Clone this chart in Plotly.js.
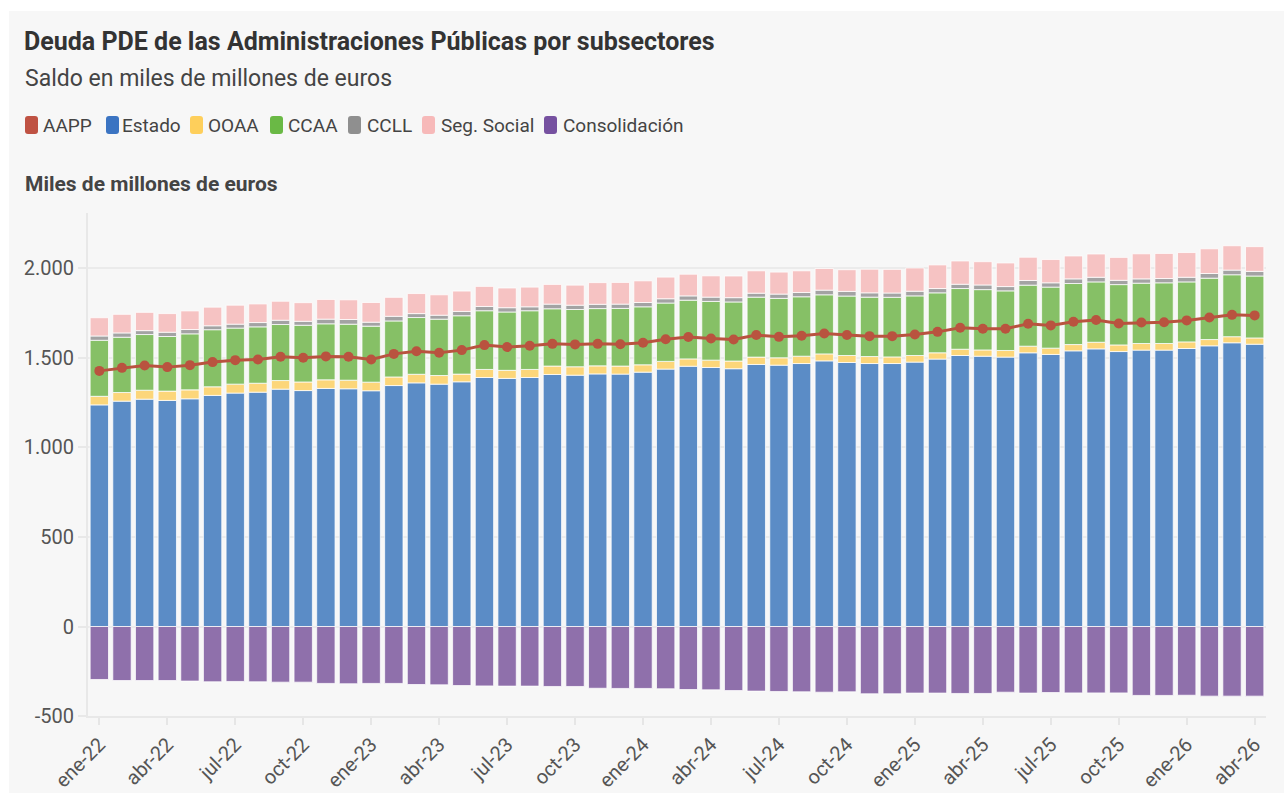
<!DOCTYPE html>
<html>
<head>
<meta charset="utf-8">
<script src="https://cdn.plot.ly/plotly-3.0.1.min.js"></script>
<style>
  html, body { margin: 0; padding: 0; background: #ffffff; }
  #chart { position: absolute; left: 9px; top: 11px; width: 1275px; height: 782px; }
</style>
</head>
<body>
<div id="chart"></div>
<script>
// ---------- DATA (miles de millones de euros) ----------
const categories = [
  "ene-22","feb-22","mar-22","abr-22","may-22","jun-22","jul-22","ago-22","sep-22","oct-22","nov-22","dic-22",
  "ene-23","feb-23","mar-23","abr-23","may-23","jun-23","jul-23","ago-23","sep-23","oct-23","nov-23","dic-23",
  "ene-24","feb-24","mar-24","abr-24","may-24","jun-24","jul-24","ago-24","sep-24","oct-24","nov-24","dic-24",
  "ene-25","feb-25","mar-25","abr-25","may-25","jun-25","jul-25","ago-25","sep-25","oct-25","nov-25","dic-25",
  "ene-26","feb-26","mar-26","abr-26"
];

const estado = [1238,1259,1270,1263,1272,1291,1304,1309,1326,1318,1330,1328,1317,1346,1361,1354,
  1367,1391,1386,1391,1408,1404,1411,1410,1421,1438,1454,1447,1440,1464,1460,1469,1484,1475,
  1469,1469,1477,1494,1514,1510,1505,1529,1520,1540,1551,1536,1544,1544,1553,1568,1585,1577];

const ooaa = [48,48,50,52,50,48,50,50,48,48,48,48,48,48,48,48,
  43,45,45,45,47,47,45,45,41,43,41,41,43,41,41,41,39,39,
  39,37,37,35,35,35,37,37,35,35,37,37,37,37,37,35,34,35];

const ccaa = [313,309,311,305,313,319,313,315,313,317,313,313,313,313,317,315,
  326,328,326,328,320,320,320,322,324,326,328,328,330,335,332,332,330,332,
  332,333,333,335,339,337,333,341,341,341,337,337,337,339,335,343,346,346];

const ccll = [24,24,22,24,24,22,22,24,24,22,26,26,22,26,22,22,
  24,24,24,22,26,24,24,24,24,24,24,24,24,22,24,24,26,26,
  24,24,26,24,24,26,24,26,24,26,26,24,24,24,26,26,26,26];

const segSocial = [102,104,102,104,104,104,106,104,106,104,110,110,110,106,112,114,
  114,112,110,110,110,112,121,121,121,121,121,119,121,125,123,121,121,121,
  132,132,130,132,130,130,132,130,130,128,130,128,140,140,138,138,136,138];

const consolidacion = [-296,-302,-302,-302,-305,-309,-307,-309,-311,-311,-318,-320,-318,-318,-324,-326,
  -330,-332,-333,-333,-335,-335,-345,-346,-346,-348,-352,-354,-358,-361,-363,-365,-367,-365,
  -376,-376,-372,-372,-374,-374,-367,-372,-369,-371,-371,-371,-385,-385,-384,-389,-389,-389];

const aapp = [1428,1445,1458,1449,1460,1477,1488,1492,1507,1501,1509,1507,1492,1523,1538,1529,
  1544,1572,1561,1568,1579,1576,1579,1577,1585,1605,1617,1609,1603,1628,1618,1624,1637,1628,
  1622,1622,1631,1646,1669,1663,1663,1691,1682,1702,1712,1693,1698,1700,1710,1726,1741,1738];

const yTickVals = [-500, 0, 500, 1000, 1500, 2000];
const yTickText = ["-500", "0", "500", "1.000", "1.500", "2.000"];

const legendNames = ["AAPP", "Estado", "OOAA", "CCAA", "CCLL", "Seg. Social", "Consolidación"];

// ---------- STYLE ----------
const FONT = "Roboto, 'Open Sans', Arial, sans-serif";
const legendColors = ["#bf5243", "#3b74c2", "#fecf5b", "#6ab945", "#8f8f8f", "#f7b9b9", "#7651a0"];
const barColors = {
  estado: "#5b8cc6", ooaa: "#fcd67a", ccaa: "#86c066", ccll: "#a3a3a3",
  ss: "#f6c3c3", cons: "#8f70ab"
};
const lineColor = "#b9533f";

// figure geometry (page pixels -> paper coords)
const OFF_X = 9, OFF_Y = 11, ML = 79, MT = 202, PW = 1178, PH = 503;
const FIG_W = 1275, FIG_H = 782;
const px = x => (x - OFF_X - ML) / PW;
const py = y => (OFF_Y + MT + PH - y) / PH;

const barLine = { color: "rgba(255,255,255,0.75)", width: 1 };
function barTrace(name, y, color) {
  return {
    type: "bar", name: name, x: categories, y: y,
    marker: { color: color, line: barLine },
    showlegend: false,
    hovertemplate: "%{x}<br>" + name + ": %{y:,.0f}<extra></extra>"
  };
}

const traces = [
  barTrace("Estado", estado, barColors.estado),
  barTrace("OOAA", ooaa, barColors.ooaa),
  barTrace("CCAA", ccaa, barColors.ccaa),
  barTrace("CCLL", ccll, barColors.ccll),
  barTrace("Seg. Social", segSocial, barColors.ss),
  barTrace("Consolidación", consolidacion, barColors.cons),
  {
    type: "scatter", mode: "lines+markers", name: "AAPP",
    x: categories, y: aapp,
    line: { color: lineColor, width: 3 },
    marker: { color: lineColor, size: 10 },
    showlegend: false,
    hovertemplate: "%{x}<br>AAPP: %{y:,.0f}<extra></extra>"
  }
];

// ---------- custom legend (rounded squares + text) ----------
const legendSquareX = [25, 106, 190, 270, 348, 422, 544];
const legendTextX = [41, 120, 206, 286, 365, 439, 561];
const legTop = 116, legBot = 134, legW = 13, rad = 3;
const shapes = [];
const annotations = [];
legendNames.forEach((n, i) => {
  const x0 = legendSquareX[i], x1 = x0 + legW;
  const X0 = px(x0), X1 = px(x1), Y0 = py(legBot), Y1 = py(legTop);
  const rx = rad / PW, ry = rad / PH;
  const path = `M ${X0 + rx} ${Y0} L ${X1 - rx} ${Y0} Q ${X1} ${Y0} ${X1} ${Y0 + ry} ` +
    `L ${X1} ${Y1 - ry} Q ${X1} ${Y1} ${X1 - rx} ${Y1} L ${X0 + rx} ${Y1} ` +
    `Q ${X0} ${Y1} ${X0} ${Y1 - ry} L ${X0} ${Y0 + ry} Q ${X0} ${Y0} ${X0 + rx} ${Y0} Z`;
  shapes.push({
    type: "path", xref: "paper", yref: "paper", path: path,
    fillcolor: legendColors[i], line: { width: 0 }, layer: "above"
  });
  annotations.push({
    xref: "paper", yref: "paper", x: px(legendTextX[i]), y: py(125),
    xanchor: "left", yanchor: "middle", showarrow: false, text: n,
    font: { family: FONT, size: 19, color: "#444" }
  });
});

annotations.push({
  xref: "paper", yref: "paper", x: px(23), y: py(78),
  xanchor: "left", yanchor: "middle", showarrow: false,
  text: "Saldo en miles de millones de euros",
  font: { family: FONT, size: 23, color: "#444" }
});
annotations.push({
  xref: "paper", yref: "paper", x: px(23), y: py(184),
  xanchor: "left", yanchor: "middle", showarrow: false,
  text: "<b>Miles de millones de euros</b>",
  font: { family: FONT, size: 21, color: "#444" }
});

const layout = {
  width: FIG_W, height: FIG_H,
  paper_bgcolor: "#f7f7f7", plot_bgcolor: "#f7f7f7",
  margin: { l: ML, r: FIG_W - ML - PW, t: MT, b: FIG_H - MT - PH, pad: 0 },
  font: { family: FONT, color: "#555" },
  separators: ",.",
  title: {
    text: "<b>Deuda PDE de las Administraciones Públicas por subsectores</b>",
    xref: "container", yref: "container",
    x: (24 - OFF_X) / FIG_W, y: 1 - (41 - OFF_Y) / FIG_H,
    xanchor: "left", yanchor: "middle",
    font: { family: FONT, size: 25, color: "#333" }
  },
  barmode: "relative",
  bargap: 0.19,
  showlegend: false,
  xaxis: {
    type: "category",
    range: [-0.5, categories.length - 0.5],
    tickmode: "array",
    tickvals: categories.filter((c, i) => i % 3 === 0),
    tickangle: -45,
    ticks: "outside", ticklen: 7, tickwidth: 2, tickcolor: "#e6e6e6",
    showgrid: false,
    showline: true, linecolor: "#e8e8e8", linewidth: 2,
    tickfont: { family: FONT, size: 20, color: "#555" },
    fixedrange: true
  },
  yaxis: {
    range: [-500, 2310],
    tickmode: "array", tickvals: yTickVals, ticktext: yTickText,
    ticks: "outside", ticklen: 8, tickwidth: 2, tickcolor: "#e8e8e8",
    ticklabelstandoff: 0,
    showgrid: true, gridcolor: "#ebebeb", gridwidth: 2,
    zeroline: false,
    showline: true, linecolor: "#e8e8e8", linewidth: 2,
    tickfont: { family: FONT, size: 20, color: "#555" },
    fixedrange: true
  },
  shapes: shapes,
  annotations: annotations
};

Plotly.newPlot("chart", traces, layout, { displayModeBar: false, staticPlot: false });
</script>
</body>
</html>
